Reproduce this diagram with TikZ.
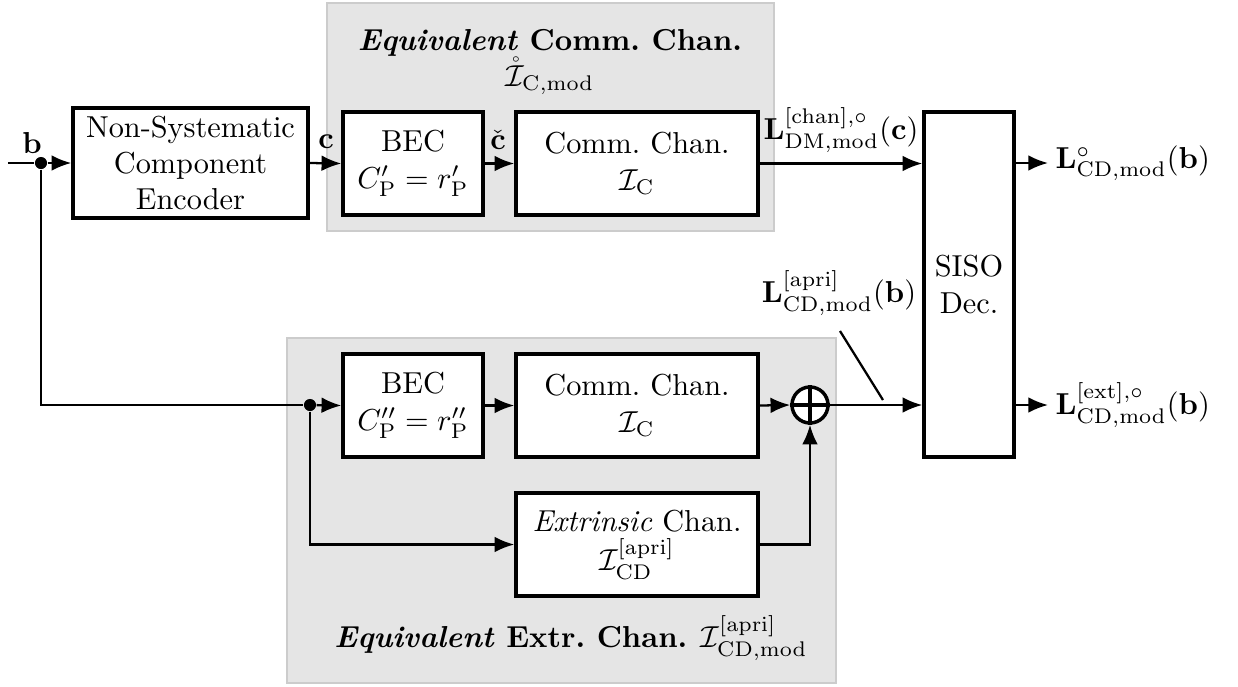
\documentclass[tikz,border=0pt]{standalone}
\usepackage{amsmath,amssymb}
\usetikzlibrary{arrows.meta}
\begin{document}
\begin{tikzpicture}[x=0.33pt,y=-0.33pt,
  blk/.style={draw,line width=1.15pt,fill=white,align=center,inner sep=0pt},
  grp/.style={draw=black!20,line width=0.8pt,fill=black!10},
  sig/.style={line width=0.75pt,-{Latex[length=6.5pt,width=5.2pt]}},
  wire/.style={line width=0.75pt},
  dot/.style={circle,fill=black,inner sep=0pt,minimum size=4pt},
  lbl/.style={inner sep=1pt}]
\useasboundingbox (0,0) rectangle (1238,686);

% shaded groups
\draw[grp] (327,3) rectangle (774,231);
\draw[grp] (287,338) rectangle (836,683);
\node[lbl] (t1) at (550,43) {\textbf{\textit{Equivalent} Comm.\ Chan.}};
\node[lbl] (t2) at (550,76) {$\mathring{\mathcal{I}}_{\mathrm{C,mod}}$};
\node[lbl] (t3) at (571,638) {\textbf{\textit{Equivalent} Extr.\ Chan.} $\mathcal{I}^{[\mathrm{apri}]}_{\mathrm{CD,mod}}$};

% blocks
\node[blk,minimum width=235*0.33pt,minimum height=110*0.33pt] (enc) at (190.5,163)
  {Non-Systematic\\Component\\Encoder};
\node[blk,minimum width=140*0.33pt,minimum height=103*0.33pt] (bec1) at (413,163.5)
  {BEC\\$C'_{\mathrm{P}}=r'_{\mathrm{P}}$};
\node[blk,minimum width=242*0.33pt,minimum height=103*0.33pt] (cc1) at (637,163.5)
  {Comm.\ Chan.\\$\mathcal{I}_{\mathrm{C}}$};
\node[blk,minimum width=90*0.33pt,minimum height=345*0.33pt] (siso) at (969,284.5)
  {SISO\\Dec.};
\node[blk,minimum width=140*0.33pt,minimum height=103*0.33pt] (bec2) at (413,405.5)
  {BEC\\$C''_{\mathrm{P}}=r''_{\mathrm{P}}$};
\node[blk,minimum width=242*0.33pt,minimum height=103*0.33pt] (cc2) at (637,405.5)
  {Comm.\ Chan.\\$\mathcal{I}_{\mathrm{C}}$};
\node[blk,minimum width=242*0.33pt,minimum height=103*0.33pt] (ext) at (637,544.5)
  {\textit{Extrinsic} Chan.\\[1pt]$\mathcal{I}^{[\mathrm{apri}]}_{\mathrm{CD}}$};
\node[draw,circle,line width=1.15pt,fill=white,minimum size=36*0.33pt,inner sep=0pt] (sum) at (810,405) {};
\draw[line width=1.15pt] (sum.north) -- (sum.south) (sum.west) -- (sum.east);

% branch points and free ends
\coordinate (in) at (8,163);
\node[dot] (d1) at (41,163) {};
\node[dot] (d2) at (310,405) {};
\coordinate (o1) at (1048,163);
\coordinate (o2) at (1048,405);

% connectors
\draw[wire] (in) -- (d1);
\draw[sig] (d1) -- (enc.west);
\draw[sig] (enc.east) -- (bec1.west);
\draw[sig] (bec1.east) -- (cc1.west);
\draw[sig] (cc1.east) -- (cc1.east -| siso.west);
\draw[wire] (d1) |- (d2);
\draw[sig] (d2) -- (bec2.west);
\draw[sig] (bec2.east) -- (cc2.west);
\draw[sig] (cc2.east) -- (sum.west);
\draw[sig] (d2) |- (ext.west);
\draw[sig] (ext.east) -| (sum.south);
\draw[sig] (sum.east) -- (sum.east -| siso.west);
\draw[sig] (siso.east |- o1) -- (o1);
\draw[sig] (siso.east |- o2) -- (o2);

% signal labels
\node[lbl] (lb) at (32,143) {$\mathbf{b}$};
\node[lbl] (lc) at (326,142) {$\mathbf{c}$};
\node[lbl] (lcc) at (498,140) {$\check{\mathbf{c}}$};
\node[lbl] (lchan) at (841,130) {$\mathbf{L}^{[\mathrm{chan}],\circ}_{\mathrm{DM,mod}}(\mathbf{c})$};
\node[lbl,anchor=west] (lout) at (1052,163) {$\mathbf{L}^{\circ}_{\mathrm{CD,mod}}(\mathbf{b})$};
\node[lbl,anchor=west] (lext) at (1052,405) {$\mathbf{L}^{[\mathrm{ext}],\circ}_{\mathrm{CD,mod}}(\mathbf{b})$};
\node[lbl] (lapri) at (839,293) {$\mathbf{L}^{[\mathrm{apri}]}_{\mathrm{CD,mod}}(\mathbf{b})$};
\coordinate (p1) at (840,331);
\coordinate (p2) at (883,400);
\draw[wire] (p1) -- (p2);
\end{tikzpicture}
\end{document}
